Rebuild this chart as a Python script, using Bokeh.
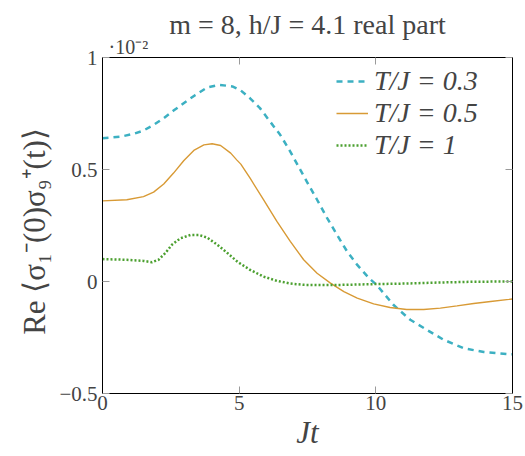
from bokeh.plotting import figure
from bokeh.models import FixedTicker, LinearAxis, Legend, LegendItem, Range1d, Title
from bokeh.embed import file_html
from bokeh.resources import INLINE

# Data (values in units of 1e-2)
t03 = [0.0, 0.64, 1.13, 1.50, 1.87, 2.24, 2.60, 2.97, 3.40, 3.83, 4.28, 4.75, 5.06, 5.40, 5.76,
       6.13, 6.50, 6.87, 7.24, 7.54, 7.85, 8.22, 8.58, 8.95, 9.32, 9.75, 10.03, 10.64, 11.26,
       11.87, 12.48, 13.22, 13.95, 14.81, 15.0]
v03 = [0.640, 0.646, 0.659, 0.674, 0.699, 0.729, 0.763, 0.796, 0.833, 0.866, 0.878, 0.871, 0.853,
       0.818, 0.774, 0.714, 0.655, 0.580, 0.498, 0.432, 0.365, 0.283, 0.208, 0.134, 0.074, 0.015,
       -0.015, -0.104, -0.171, -0.216, -0.260, -0.298, -0.315, -0.324, -0.325]

t05 = [0.0, 0.89, 1.50, 1.87, 2.24, 2.60, 2.97, 3.34, 3.71, 4.01, 4.32, 4.69, 4.91, 5.06, 5.40,
       5.89, 6.38, 6.87, 7.36, 7.85, 8.34, 8.83, 9.32, 9.92, 10.52, 11.13, 11.75, 12.36, 12.97,
       13.58, 14.20, 14.87, 15.0]
v05 = [0.360, 0.365, 0.379, 0.399, 0.435, 0.484, 0.539, 0.585, 0.610, 0.615, 0.607, 0.573, 0.543,
       0.524, 0.461, 0.365, 0.268, 0.179, 0.097, 0.037, -0.007, -0.045, -0.074, -0.100, -0.116,
       -0.125, -0.125, -0.119, -0.109, -0.098, -0.089, -0.080, -0.078]

t1 = [0.0, 0.89, 1.50, 1.81, 2.05, 2.30, 2.54, 2.85, 3.22, 3.52, 3.83, 4.20, 4.57, 4.95, 5.40,
      5.89, 6.38, 6.87, 7.36, 8.10, 8.83, 9.81, 11.13, 12.36, 13.58, 14.87, 15.0]
v1 = [0.100, 0.097, 0.092, 0.086, 0.097, 0.127, 0.164, 0.193, 0.208, 0.208, 0.196, 0.164, 0.127,
      0.087, 0.052, 0.022, 0.003, -0.009, -0.015, -0.016, -0.015, -0.012, -0.009, -0.0045,
      -0.001, 0.0, 0.0]

x_ticks = [0, 5, 10, 15]
y_ticks = [-0.5, 0, 0.5, 1]
y_tick_labels = {-0.5: "\u22120.5", 0: "0", 0.5: "0.5", 1: "1"}
series_labels = ["T/J = 0.3", "T/J = 0.5", "T/J = 1"]
title_text = "m = 8, h/J = 4.1 real part"
exponent_text = "\u00b710\u207b\u00b2"

FONT = "Liberation Serif"

p = figure(width=525, height=456, output_backend="svg", toolbar_location=None,
           x_range=Range1d(0, 15), y_range=Range1d(-0.5, 1),
           min_border_left=102, min_border_right=13, min_border_top=57, min_border_bottom=63)

p.xgrid.visible = False
p.ygrid.visible = False
p.outline_line_color = "black"
p.outline_line_width = 1

for ax in (p.xaxis[0], p.yaxis[0]):
    ax.major_label_text_font = FONT
    ax.major_label_text_font_size = "21px"
    ax.axis_label_text_font = FONT
    ax.axis_label_text_font_size = "31px"
    ax.axis_label_text_font_style = "normal"
    ax.major_tick_in = 7
    ax.major_tick_out = 0
    ax.major_tick_line_color = "#9a9a9a"
    ax.minor_tick_line_color = None
    ax.axis_line_color = "black"

p.xaxis[0].ticker = FixedTicker(ticks=x_ticks)
p.yaxis[0].ticker = FixedTicker(ticks=y_ticks)
p.yaxis[0].major_label_overrides = y_tick_labels
p.xaxis[0].axis_label = "Jt"
p.xaxis[0].axis_label_text_font_style = "italic"
p.yaxis[0].axis_label = "Re \u27e8\u03c3\u2081\u207b(0)\u03c3\u2089\u207a(t)\u27e9"
p.xaxis[0].major_label_standoff = 2
p.yaxis[0].major_label_standoff = 5
p.xaxis[0].axis_label_standoff = 2
p.yaxis[0].axis_label_standoff = 4

for loc, tk in (("right", y_ticks), ("above", x_ticks)):
    ax = LinearAxis(ticker=FixedTicker(ticks=tk))
    ax.major_label_text_color = None
    ax.major_label_text_font_size = "1px"
    ax.major_label_standoff = 0
    ax.major_tick_in = 7
    ax.major_tick_out = 0
    ax.major_tick_line_color = "#9a9a9a"
    ax.minor_tick_line_color = None
    ax.axis_line_color = "black"
    p.add_layout(ax, loc)

# exponent marker (nearest to the frame), then the main title above it
exp_title = Title(text=exponent_text, text_font=FONT, text_font_size="20px",
                  text_font_style="normal", align="left", offset=6, standoff=0)
p.add_layout(exp_title, "above")
main_title = Title(text=title_text, text_font=FONT, text_font_size="28px",
                   text_font_style="normal", align="center", offset=20, standoff=-12)
p.add_layout(main_title, "above")

r1 = p.line(t03, v03, line_color="#3CB0C2", line_width=2.5, line_dash="6 5")
r2 = p.line(t05, v05, line_color="#D89A35", line_width=1.4)
r3 = p.line(t1, v1, line_color="#4CA030", line_width=2.5, line_dash="2 2")

legend = Legend(items=[LegendItem(label=series_labels[0], renderers=[r1]),
                       LegendItem(label=series_labels[1], renderers=[r2]),
                       LegendItem(label=series_labels[2], renderers=[r3])],
                location="top_right")
legend.label_text_font = FONT
legend.label_text_font_size = "28px"
legend.label_text_font_style = "italic"
legend.border_line_color = None
legend.background_fill_alpha = 0
legend.glyph_width = 32
legend.label_width = 130
legend.label_standoff = 6
legend.spacing = 0
legend.margin = 8
legend.padding = 2
p.add_layout(legend)

open("out.html", "w").write(file_html(p, INLINE))
